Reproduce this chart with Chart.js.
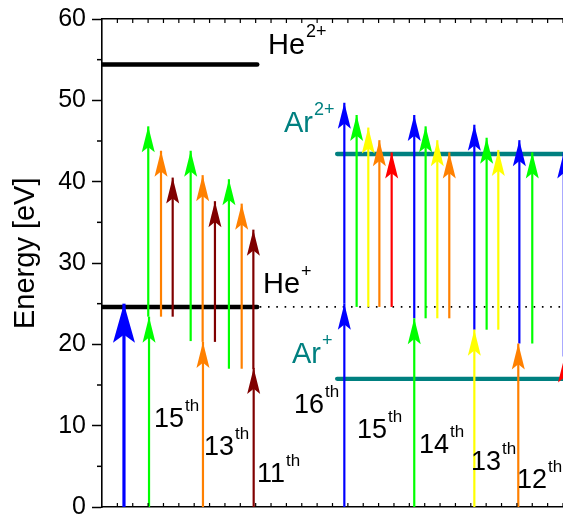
<!DOCTYPE html>
<html>
<head>
<meta charset="utf-8">
<script src="https://cdn.jsdelivr.net/npm/chart.js@4.4.1/dist/chart.umd.min.js"></script>
<style>
  html, body { margin: 0; padding: 0; background: #fff; }
  canvas { display: block; }
</style>
</head>
<body>
<canvas id="chart" width="563" height="517"></canvas>
<script>
/* ==========================================
   He / Ar two-photon ionisation level diagram
   ========================================== */

// ---- ionisation levels (eV) ----
const heLevels = [24.6, 54.4];      // He+, He2+
const arLevels = [15.76, 43.4];     // Ar+, Ar2+
const heSpan = [0, 10.1];           // x range of the He level bars
const arSpan = [15.3, 31];          // x range of the Ar level bars
const thresholdLine = 24.6;         // dotted He+ threshold across the plot

// ---- first photon: arrows from the ground state ----
const firstX     = [1.43, 3.06, 6.57, 9.87, 15.77, 20.32, 24.23, 27.09, 30.1];
const firstOrder = [16, 15, 13, 11, 16, 15, 14, 13, 12];
const firstTop   = [25.0, 23.4, 20.3, 17.1, 25.0, 23.2, 21.8, 20.1, 18.5];

// ---- second photon: arrows stacked on the first ----
const secondX     = [3.01, 3.84, 4.6, 5.77, 6.55, 7.35, 8.26, 9.09, 9.85,
                     15.77, 16.57, 17.33, 18.05, 18.85, 20.32, 21.06, 21.82, 22.6,
                     24.23, 25.03, 25.79, 27.16, 28.0, 30.05];
const secondOrder = [15, 13, 11, 15, 13, 11, 15, 13, 11,
                     16, 15, 14, 13, 12, 16, 15, 14, 13,
                     16, 15, 14, 16, 15, 16];
const secondFrom  = [23.4, 23.4, 23.4, 20.4, 20.3, 20.3, 17.0, 17.0, 17.0,
                     25.0, 24.6, 24.6, 24.6, 24.6, 23.2, 23.2, 23.2, 23.2,
                     21.8, 21.8, 21.8, 20.1, 20.1, 18.5];
const secondTo    = [46.8, 43.8, 40.5, 43.8, 40.8, 37.6, 40.3, 37.3, 34.1,
                     49.7, 48.2, 46.65, 45.1, 43.6, 48.2, 46.8, 45.1, 43.6,
                     47.0, 45.4, 43.9, 45.1, 43.6, 43.6];

// ---- harmonic order labels ----
const harmLabels = ['15', '13', '11', '16', '15', '14', '13', '12'];

// ---- styles ----
const FONT = "'Liberation Sans', Arial, sans-serif";
const TEAL = '#008080';
const orderColor = {
  16: '#0000ff', 15: '#00ff00', 14: '#ffff00',
  13: '#ff8000', 12: '#ff0000', 11: '#800000'
};
// label anchors in data coordinates
const harmLabelPos = [[3.38, 9.84], [6.64, 6.39], [10.09, 3.07], [12.49, 11.56],
                      [16.59, 8.48], [20.63, 6.64], [24.01, 4.55], [27.0, 2.34]];
const levelLabels = [
  { main: 'He', sup: '2+', x: 10.8,  y: 55.7,  color: '#000' },
  { main: 'He', sup: '+',  x: 10.48, y: 26.31, color: '#000' },
  { main: 'Ar', sup: '2+', x: 11.84, y: 46.11, color: TEAL },
  { main: 'Ar', sup: '+',  x: 12.36, y: 17.71, color: TEAL }
];

function segment(x0, y0, x1, y1, extra) {
  return Object.assign({
    data: [{ x: x0, y: y0 }, { x: x1, y: y1 }],
    showLine: true,
    pointRadius: 0,
    fill: false
  }, extra);
}

function buildDatasets() {
  const sets = [];
  // dotted threshold
  sets.push(segment(0, thresholdLine, 30, thresholdLine, {
    borderColor: '#000', borderWidth: 1.6, borderDash: [1.6, 6.7]
  }));
  // level bars
  heLevels.forEach(e => sets.push(segment(heSpan[0], e, heSpan[1], e, {
    borderColor: '#000', borderWidth: 4.5, borderCapStyle: 'round'
  })));
  arLevels.forEach(e => sets.push(segment(arSpan[0], e, arSpan[1], e, {
    borderColor: TEAL, borderWidth: 4.3, borderCapStyle: 'round'
  })));
  // second-photon arrows
  secondX.forEach((x, i) => sets.push(segment(x, secondFrom[i], x, secondTo[i], {
    borderColor: orderColor[secondOrder[i]], borderWidth: 2.2, head: [13, 26]
  })));
  // first-photon arrows (the He 16th is drawn bold)
  firstX.forEach((x, i) => {
    const bold = i === 0;
    sets.push(segment(x, 0, x, firstTop[i], {
      borderColor: orderColor[firstOrder[i]],
      borderWidth: bold ? 3.2 : 2.2,
      head: bold ? [22, 39] : [13, 26]
    }));
  });
  // later datasets painted on top
  sets.forEach((s, i) => { s.order = -i; });
  return sets;
}

const arrowHeads = {
  id: 'arrowHeads',
  afterDatasetDraw(chart, args) {
    const ds = chart.data.datasets[args.index];
    if (!ds.head) return;
    const pts = args.meta.data;
    const a = pts[0], b = pts[pts.length - 1];
    const [w, h] = ds.head;
    const ctx = chart.ctx;
    const area = chart.chartArea;
    ctx.save();
    ctx.beginPath();
    ctx.rect(area.left, area.top, area.right - area.left, area.bottom - area.top);
    ctx.clip();
    ctx.translate(b.x, b.y);
    ctx.rotate(Math.atan2(b.y - a.y, b.x - a.x) + Math.PI / 2);
    ctx.beginPath();
    ctx.moveTo(0, 0);
    ctx.lineTo(w / 2, h);
    ctx.lineTo(0, h * 0.8);
    ctx.lineTo(-w / 2, h);
    ctx.closePath();
    ctx.fillStyle = ds.borderColor;
    ctx.fill();
    ctx.restore();
  }
};

function supText(ctx, x, y, main, sup, size, supSize, rise, color) {
  ctx.fillStyle = color;
  ctx.textAlign = 'left';
  ctx.textBaseline = 'alphabetic';
  ctx.font = size + 'px ' + FONT;
  ctx.fillText(main, x, y);
  const w = ctx.measureText(main).width;
  ctx.font = supSize + 'px ' + FONT;
  ctx.fillText(sup, x + w + 1, y - rise);
}

const decorations = {
  id: 'decorations',
  afterDraw(chart) {
    const ctx = chart.ctx;
    const xs = chart.scales.x, ys = chart.scales.y;
    const area = chart.chartArea;
    ctx.save();
    // minor y ticks (outside)
    ctx.strokeStyle = '#000';
    ctx.lineWidth = 1.5;
    for (let v = 5; v < 60; v += 10) {
      const py = ys.getPixelForValue(v);
      ctx.beginPath();
      ctx.moveTo(area.left - 5, py);
      ctx.lineTo(area.left, py);
      ctx.stroke();
    }
    // inward x ticks on top and bottom frame
    ctx.lineWidth = 1.2;
    for (let v = 1; v <= 30; v++) {
      const px = xs.getPixelForValue(v);
      ctx.beginPath();
      ctx.moveTo(px, area.top);
      ctx.lineTo(px, area.top + 4);
      ctx.moveTo(px, area.bottom);
      ctx.lineTo(px, area.bottom - 4);
      ctx.stroke();
    }
    // axis title
    ctx.save();
    ctx.translate(34, ys.getPixelForValue(31.2));
    ctx.rotate(-Math.PI / 2);
    ctx.fillStyle = '#000';
    ctx.font = '29px ' + FONT;
    ctx.textAlign = 'center';
    ctx.textBaseline = 'alphabetic';
    ctx.fillText('Energy [eV]', 0, 0);
    ctx.restore();
    // level labels
    levelLabels.forEach(l => supText(ctx, xs.getPixelForValue(l.x), ys.getPixelForValue(l.y),
      l.main, l.sup, 29, 18, 16.5, l.color));
    // harmonic order labels
    harmLabels.forEach((t, i) => supText(ctx, xs.getPixelForValue(harmLabelPos[i][0]),
      ys.getPixelForValue(harmLabelPos[i][1]), t, 'th', 27, 17, 16, '#000'));
    ctx.restore();
  }
};

function initChart() {
  Chart.defaults.font.family = FONT;
  Chart.defaults.color = '#000';

  new Chart(document.getElementById('chart'), {
    type: 'scatter',
    data: { datasets: buildDatasets() },
    options: {
      responsive: false,
      animation: false,
      layout: { padding: 0 },
      plugins: {
        legend: { display: false },
        tooltip: { enabled: false }
      },
      scales: {
        x: {
          type: 'linear', min: 0, max: 30,
          ticks: { display: false },
          grid: { display: false },
          border: { display: true, color: '#000', width: 1.6 },
          afterFit(s) { s.height = 10; s.paddingLeft = 0; s.paddingRight = 0; }
        },
        x2: {
          type: 'linear', axis: 'x', position: 'top', min: 0, max: 30,
          ticks: { display: false },
          grid: { display: false },
          border: { display: true, color: '#000', width: 1.6 },
          afterFit(s) { s.height = 19; s.paddingLeft = 0; s.paddingRight = 0; }
        },
        y: {
          type: 'linear', min: 0, max: 60,
          ticks: { stepSize: 10, padding: 6, font: { size: 25 }, color: '#000' },
          grid: {
            drawOnChartArea: false, drawTicks: true,
            tickLength: 10, tickWidth: 1.5, tickColor: '#000'
          },
          border: { display: true, color: '#000', width: 1.6 },
          afterFit(s) { s.width = 102; s.paddingTop = 0; s.paddingBottom = 0; }
        }
      }
    },
    plugins: [arrowHeads, decorations]
  });
}

document.addEventListener('DOMContentLoaded', initChart);
</script>
</body>
</html>
